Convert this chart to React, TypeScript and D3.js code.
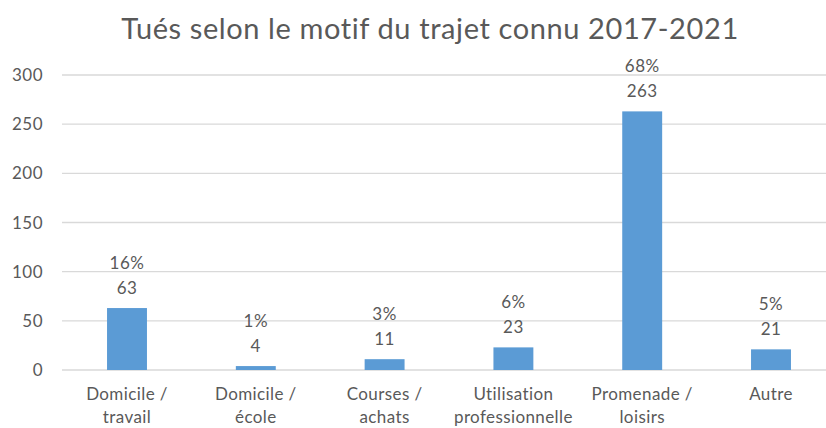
import React, { useRef, useEffect } from "react";
import * as d3 from "d3";

const categories = [
  ["Domicile /", "travail"],
  ["Domicile /", "école"],
  ["Courses /", "achats"],
  ["Utilisation", "professionnelle"],
  ["Promenade /", "loisirs"],
  ["Autre"],
];
const values = [63, 4, 11, 23, 263, 21];
const percents = ["16%", "1%", "3%", "6%", "68%", "5%"];
const yTicks = [0, 50, 100, 150, 200, 250, 300];

const width = 826;
const height = 428;
const font = "Lato, 'Liberation Sans', Arial, sans-serif";

const App = () => {
  const svgRef = useRef(null);

  useEffect(() => {
    const svg = d3.select(svgRef.current);
    svg.selectAll("*").remove();

    const x = d3
      .scaleBand()
      .domain(categories.map((d, i) => String(i)))
      .range([62.6, 835.4])
      .padding(0);
    const y = d3.scaleLinear().domain([0, 300]).range([370, 75]);
    const barW = x.bandwidth() * 0.31;

    // title
    svg
      .append("text")
      .attr("x", 430)
      .attr("y", 39)
      .attr("text-anchor", "middle")
      .attr("font-family", font)
      .attr("font-size", 29)
      .attr("letter-spacing", 0.6)
      .attr("fill", "#595959")
      .text("Tués selon le motif du trajet connu 2017-2021");

    // grid
    svg
      .append("g")
      .selectAll("line")
      .data(yTicks)
      .enter()
      .append("line")
      .attr("x1", 62)
      .attr("x2", width)
      .attr("y1", (d) => y(d))
      .attr("y2", (d) => y(d))
      .attr("stroke", "#d9d9d9")
      .attr("stroke-width", 1.3);

    // y tick labels
    svg
      .append("g")
      .selectAll("text")
      .data(yTicks)
      .enter()
      .append("text")
      .attr("x", 43)
      .attr("y", (d) => y(d) + 6)
      .attr("text-anchor", "end")
      .attr("font-family", font)
      .attr("font-size", 17)
      .attr("letter-spacing", 0.5)
      .attr("fill", "#595959")
      .text((d) => d);

    // bars
    svg
      .append("g")
      .selectAll("rect")
      .data(values)
      .enter()
      .append("rect")
      .attr("x", (d, i) => x(String(i)) + x.bandwidth() / 2 - barW / 2)
      .attr("y", (d) => y(d))
      .attr("width", barW)
      .attr("height", (d) => y(0) - y(d))
      .attr("fill", "#5b9bd5");

    // data labels
    const labels = svg
      .append("g")
      .attr("font-family", font)
      .attr("font-size", 17)
      .attr("letter-spacing", 0.5)
      .attr("fill", "#595959")
      .attr("text-anchor", "middle");
    values.forEach((v, i) => {
      const cx = x(String(i)) + x.bandwidth() / 2;
      labels.append("text").attr("x", cx).attr("y", y(v) - 14.5).text(v);
      labels.append("text").attr("x", cx).attr("y", y(v) - 39.5).text(percents[i]);
    });

    // category labels
    const xl = svg
      .append("g")
      .attr("font-family", font)
      .attr("font-size", 17)
      .attr("letter-spacing", 0.4)
      .attr("fill", "#595959")
      .attr("text-anchor", "middle");
    categories.forEach((lines, i) => {
      const cx = x(String(i)) + x.bandwidth() / 2;
      lines.forEach((t, j) => {
        xl.append("text").attr("x", cx).attr("y", 400 + j * 23).text(t);
      });
    });
  });

  return (
    <div>
      <svg
        ref={svgRef}
        width={width}
        height={height}
        style={{ position: "absolute", left: 0, top: 0, background: "#fff" }}
      ></svg>
    </div>
  );
};

export default App;
